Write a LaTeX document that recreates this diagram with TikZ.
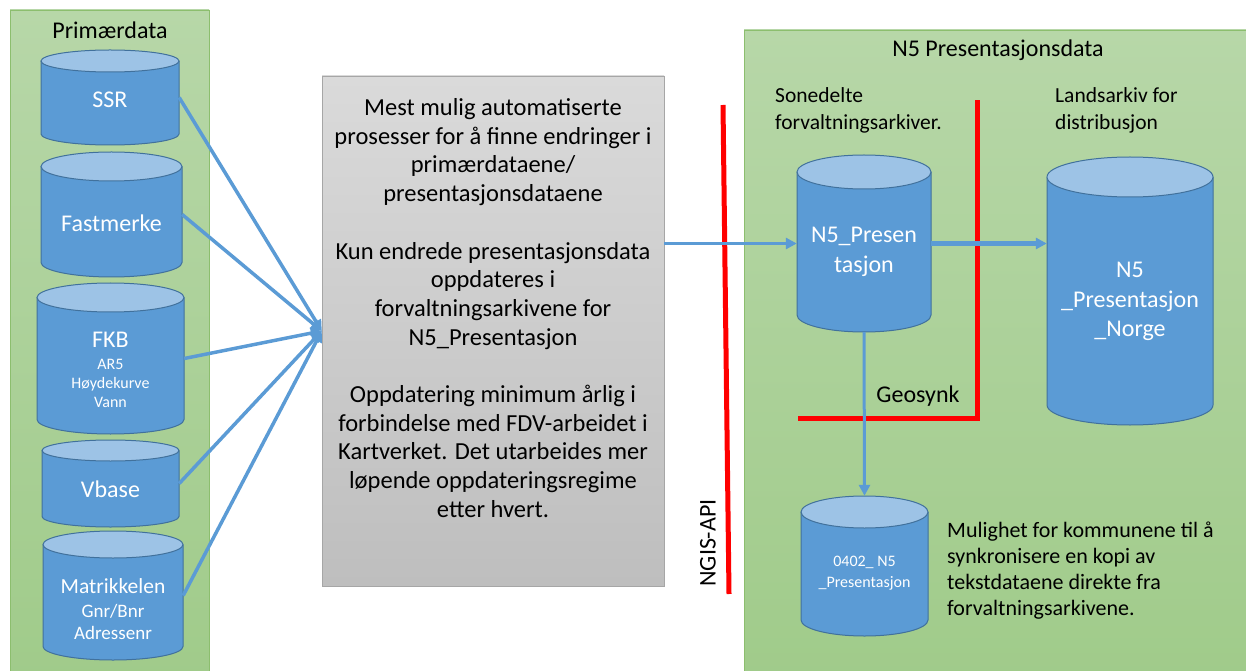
\documentclass[tikz,border=0pt]{standalone}
\usepackage{fontspec}
\setmainfont{Carlito}
\usetikzlibrary{arrows.meta,positioning}
\definecolor{cylblue}{RGB}{91,155,213}
\definecolor{cyltop}{RGB}{157,195,230}
\definecolor{cyledge}{RGB}{65,113,156}
\definecolor{greentop}{RGB}{183,215,168}
\definecolor{greenbot}{RGB}{160,203,138}
\definecolor{greenedge}{RGB}{140,190,110}
\definecolor{graytop}{RGB}{218,218,218}
\definecolor{graybot}{RGB}{190,190,190}
\tikzset{>={Triangle[length=11pt,width=11pt]}}
\tikzset{
  cylbody/.style={fill=cylblue},
  cylline/.style={draw=cyledge,line width=1pt},
  dbtext/.style={text=white,align=center,font=\fontsize{24}{29}\selectfont},
  dbsmall/.style={text=white,align=center,font=\fontsize{16}{19}\selectfont},
  plain/.style={align=left,inner sep=0pt,font=\fontsize{22}{26}\selectfont},
  feed/.style={draw=cylblue,line width=3.5pt,->},
  redline/.style={draw=red,line width=5pt},
  panel/.style={top color=greentop,bottom color=greenbot,draw=greenedge,line width=0.8pt},
}
% cylinder: name, centre x, top ellipse y, bottom ellipse y, half width, y radius
\newcommand{\dbcyl}[6]{%
  \fill[cylbody] ({#2-#5},#3) -- ({#2-#5},#4) arc[start angle=180,end angle=360,x radius=#5,y radius=#6] -- ({#2+#5},#3) -- cycle;
  \draw[cylline] ({#2-#5},#3) -- ({#2-#5},#4) arc[start angle=180,end angle=360,x radius=#5,y radius=#6] -- ({#2+#5},#3);
  \draw[cylline,fill=cyltop] (#2,#3) ellipse[x radius=#5,y radius=#6];
  \node[inner sep=0pt,minimum width={2*#5*1pt},minimum height={(#3-#4+2*#6)*1pt}] (#1) at (#2,{(#3+#4)/2}) {};
}
\begin{document}
\begin{tikzpicture}[x=1pt,y=1pt]
  \useasboundingbox (0,0) rectangle (1246,670);
  % panels
  \shadedraw[panel] (10,-10) rectangle (209,660);
  \shadedraw[panel] (744,-10) rectangle (1260,640);
  \node[font=\fontsize{24}{29}\selectfont] (prim) at (110,640) {Primærdata};
  \node[font=\fontsize{24}{29}\selectfont] (pres) at (998,620) {N5 Presentasjonsdata};
  % primary data
  \dbcyl{ssr}{110}{609}{536}{69}{11}
  \dbcyl{fm}{111.5}{503.5}{407.5}{70.5}{14.5}
  \dbcyl{fkb}{110.5}{372.5}{250.5}{73.5}{14.5}
  \dbcyl{vb}{110.5}{219.5}{153.5}{68.5}{10.5}
  \dbcyl{mat}{113}{125.5}{23.5}{70}{13.5}
  \node[dbtext,yshift=-2.5pt] (ssrtext) at (ssr) {SSR};
  \node[dbtext,yshift=-8.5pt] (fmtext) at (fm) {Fastmerke};
  \node[dbtext] (fkbtext) at (110.5,330) {FKB};
  \node[dbsmall] (fkbsub) at (110.5,287) {AR5\\Høydekurve\\Vann};
  \node[dbtext,yshift=-5.5pt] (vbtext) at (vb) {Vbase};
  \node[dbtext,font=\fontsize{21.5}{25}\selectfont] (mattext) at (113,84) {Matrikkelen};
  \node[dbtext,font=\fontsize{19}{22}\selectfont] (matsub) at (113,48) {Gnr/Bnr\\Adressenr};
  % process box
  \node[top color=graytop,bottom color=graybot,draw=gray!70,minimum width=342pt,minimum height=510pt] (proc) at (493,339) {};
  \node[align=center,font=\fontsize{24.5}{28.7}\selectfont] (proctext) at (493,362) {Mest mulig automatiserte\\prosesser for å finne endringer i\\primærdataene/\\presentasjonsdataene\\[28.7pt]Kun endrede presentasjonsdata\\oppdateres i\\forvaltningsarkivene for\\N5\_Presentasjon\\[28.7pt]Oppdatering minimum årlig i\\forbindelse med FDV-arbeidet i\\Kartverket. Det utarbeides mer\\løpende oppdateringsregime\\etter hvert.};
  % presentation data
  \node[plain,font=\fontsize{21.5}{27}\selectfont,anchor=west] (sone) at (775,559.5) {Sonedelte\\forvaltningsarkiver.};
  \node[plain,font=\fontsize{21.5}{27}\selectfont,anchor=west] (land) at (1055,559.5) {Landsarkiv for\\distribusjon};
  \draw[redline] (723,565) -- (729,76);% NGIS-API
  \draw[redline] (798,252) -- (977,252) -- (977,570);
  \node[font=\fontsize{24}{29}\selectfont,rotate=90] (ngis) at (708,127) {NGIS-API};
  \node[font=\fontsize{24}{29}\selectfont] (geo) at (918,274) {Geosynk};
  \dbcyl{n5}{864}{498}{355}{67}{17}
  \dbcyl{big}{1130}{493}{265}{83}{20}
  \dbcyl{small}{864.5}{158}{50}{63.5}{16}
  \node[dbtext,font=\fontsize{24}{30}\selectfont] (n5text) at (864,418) {N5\_Presen\\tasjon};
  \node[dbtext,font=\fontsize{24}{29.5}\selectfont] (bigtext) at (1130,368.5) {N5\\\_Presentasjon\\\_Norge};
  \node[dbsmall,font=\fontsize{16}{21}\selectfont] (smalltext) at (864.5,96.5) {0402\_ N5\\\_Presentasjon};
  \node[plain,anchor=west] (mulig) at (947,99) {Mulighet for kommunene til å\\synkronisere en kopi av\\tekstdataene direkte fra\\forvaltningsarkivene.};
  % connectors
  \foreach \c in {ssr,fm,fkb,vb,mat}
    \draw[feed] (\c.east) -- (proc.west);
  \draw[feed,line width=3pt] (n5.west -| proc.east) -- (n5.west);
  \draw[feed,line width=5pt] (n5.east) -- (n5.east -| big.west);
  \draw[feed,line width=3pt] (n5.south) -- (small.north);
\end{tikzpicture}
\end{document}
